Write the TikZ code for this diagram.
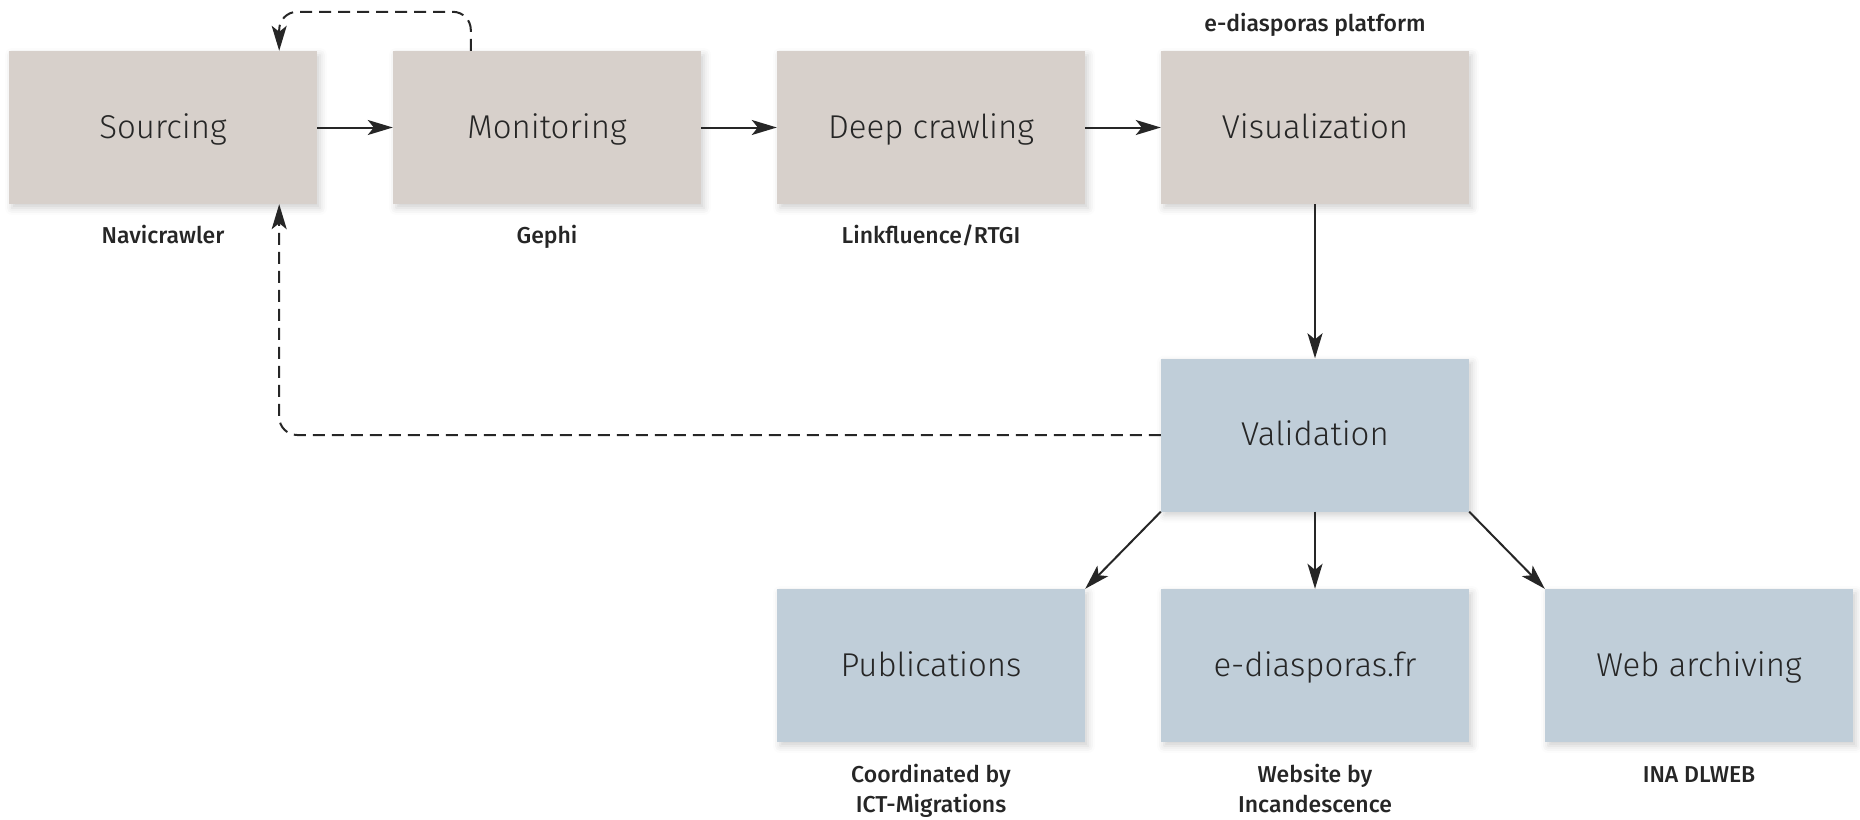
\documentclass[tikz,border=0pt]{standalone}
\usepackage{fontspec}
\setmainfont{Fira Sans}
\newfontfamily\boxfont{Fira Sans Light}
\newfontfamily\labfont{Fira Sans Medium}
\usetikzlibrary{arrows.meta,calc,shadows.blur}
\definecolor{tanc}{HTML}{D7D0CB}
\definecolor{bluec}{HTML}{C0CED9}
\definecolor{txt}{HTML}{262626}
\tikzset{
  stepbox/.style={minimum width=308pt, minimum height=153pt, inner sep=0pt, draw=none,
    text height=26pt, text depth=5pt,
    font=\boxfont\fontsize{33}{40}\selectfont, text=txt,
    blur shadow={shadow xshift=3pt, shadow yshift=-4pt, shadow blur radius=7pt, shadow opacity=18}},
  tanbox/.style={stepbox, fill=tanc},
  bluebox/.style={stepbox, fill=bluec},
  lab/.style={font=\labfont\fontsize{23}{30}\selectfont, text=txt, align=center, inner sep=0pt, anchor=base},
  conn/.style={line width=2pt, draw=txt, -{Stealth[length=25pt, width=15pt, inset=6pt]}},
  dconn/.style={conn, dash pattern=on 12pt off 7pt, rounded corners=18pt}
}
\begin{document}
\begin{tikzpicture}[x=1pt,y=-1pt]
\useasboundingbox (0,0) rectangle (1860,819);
\node[tanbox] (src) at (163,127.5) {Sourcing};
\node[tanbox] (mon) at (547,127.5) {Monitoring};
\node[tanbox] (deep) at (931,127.5) {Deep crawling};
\node[tanbox] (vis) at (1315,127.5) {Visualization};
\node[bluebox] (val) at (1315,435) {Validation};
\node[bluebox] (pub) at (931,665.5) {Publications};
\node[bluebox] (web) at (1315,665.5) {e-diasporas.fr};
\node[bluebox] (arc) at (1699,665.5) {Web archiving};

\node[lab] (l1) at (163,243) {Navicrawler};
\node[lab] (l2) at (547,243) {Gephi};
\node[lab] (l3) at (931,243) {Linkfluence/RTGI};
\node[lab] (l4) at (1315,31) {e-diasporas platform};
\node[lab] (l5) at (931,812) {Coordinated by\\ICT-Migrations};
\node[lab] (l6) at (1315,812) {Website by\\Incandescence};
\node[lab] (l7) at (1699,782) {INA DLWEB};

\draw[conn] (src) -- (mon);
\draw[conn] (mon) -- (deep);
\draw[conn] (deep) -- (vis);
\draw[conn] (vis) -- (val);
\draw[conn] (val.south west) -- (pub.north east);
\draw[conn] (val) -- (web);
\draw[conn] (val.south east) -- (arc.north west);
\draw[dconn] ($(mon.north west)+(78,0)$) -- ++(0,-39) -| ($(src.north east)+(-38,0)$);
\draw[dconn] (val.west) -| ($(src.south east)+(-38,0)$);
\end{tikzpicture}
\end{document}
